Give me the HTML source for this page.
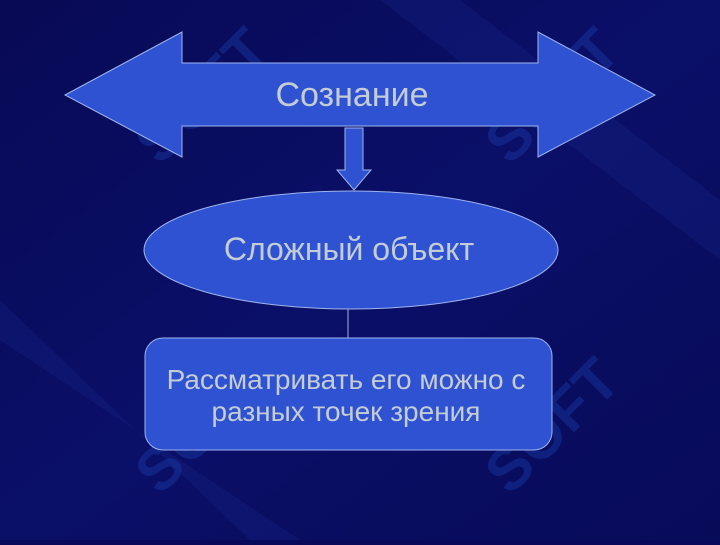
<!DOCTYPE html>
<html><head><meta charset="utf-8"><style>
html,body{margin:0;padding:0;}
body{width:720px;height:540px;overflow:hidden;background:#08095a;}
</style></head><body>
<svg width="720" height="540" viewBox="0 0 720 540" xmlns="http://www.w3.org/2000/svg">
<defs>
<linearGradient id="bg" x1="0" y1="0" x2="1" y2="1">
<stop offset="0" stop-color="#080a55"/><stop offset="0.5" stop-color="#0a0f68"/><stop offset="1" stop-color="#080b58"/>
</linearGradient>
</defs>
<rect width="720" height="540" fill="url(#bg)"/>
<g fill="#1a2a90" opacity="0.25">
<polygon points="380,0 460,0 720,200 720,260"/>
<polygon points="0,300 0,340 300,540 250,540"/>
</g>
<g font-family="Liberation Sans, sans-serif" fill="#1c3fb0" opacity="0.4" font-weight="bold" font-size="60">
<text x="120" y="150" transform="rotate(-45 160 110)">SOFT</text>
<text x="470" y="150" transform="rotate(-45 510 110)">SOFT</text>
<text x="120" y="480" transform="rotate(-45 160 440)">SOFT</text>
<text x="470" y="480" transform="rotate(-45 510 440)">SOFT</text>
</g>
<g fill="#2e52d2" stroke="#9fb4ee" stroke-width="1">
<polygon points="65,95 182,32 182,63 538,63 538,32 655,95 538,157 538,126 182,126 182,157"/>
<polygon points="345,128 363,128 363,170 371,170 354,190 337,170 345,170"/>
<ellipse cx="351" cy="250" rx="207" ry="59"/>
<rect x="145" y="338" width="407" height="112" rx="18"/>
</g>
<line x1="348" y1="309" x2="348" y2="338" stroke="#9fb4ee" stroke-width="1"/>
<g font-family="Liberation Sans, sans-serif" fill="#c4ccd6" text-anchor="middle">
<text x="352" y="106" font-size="34">Сознание</text>
<text x="349" y="260" font-size="32">Сложный объект</text>
<text x="346" y="389" font-size="28">Рассматривать его можно с</text>
<text x="346" y="421" font-size="28">разных точек зрения</text>
</g>
</svg>
</body></html>
